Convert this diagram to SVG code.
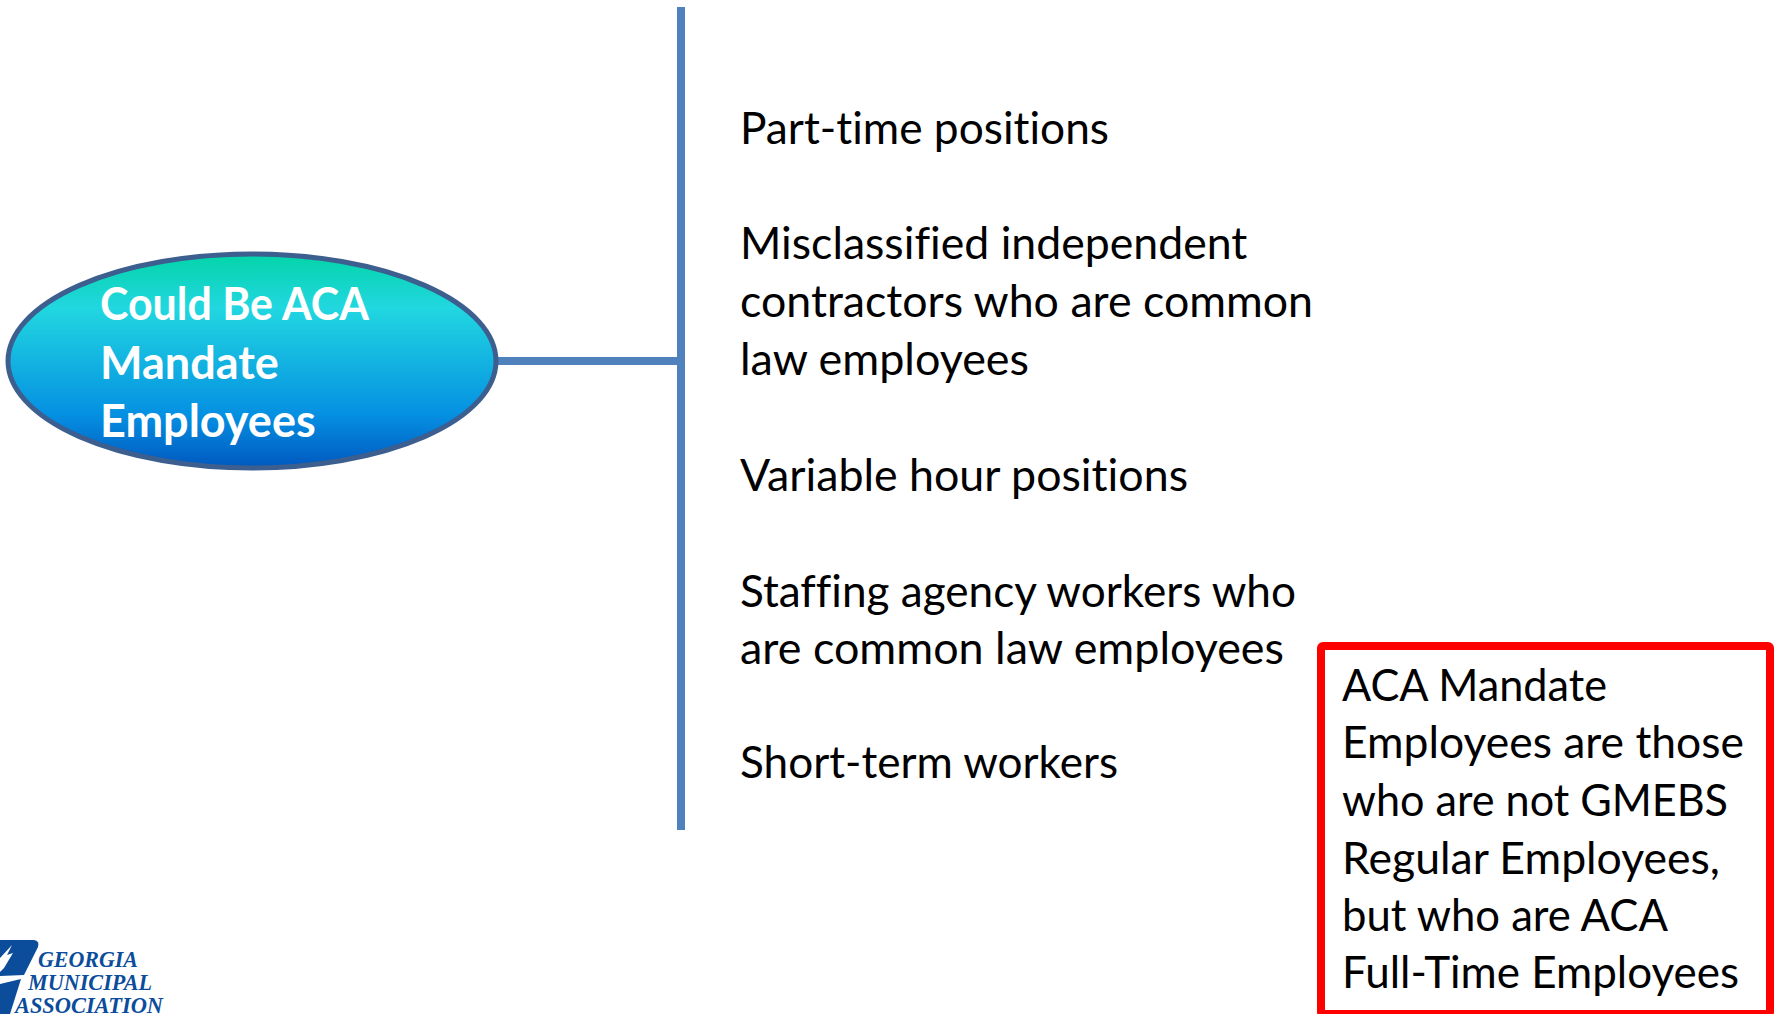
<svg xmlns="http://www.w3.org/2000/svg" width="1775" height="1014" viewBox="0 0 1775 1014">
<style>
.t{font-family:"Lato","Noto Sans","Liberation Sans",sans-serif;font-size:44.6px;fill:#000;font-variant-ligatures:none}
.h{font-family:"Lato","Noto Sans","Liberation Sans",sans-serif;font-size:45px;font-weight:700;fill:#fff}
.l{font-family:"Liberation Serif",serif;font-size:24px;font-weight:700;font-style:italic;fill:#0b4c9b}
.c{stroke:#4f81bd;fill:none}
</style>
<defs><linearGradient id="g" x1="0" y1="0" x2="0" y2="1">
<stop offset="0" stop-color="#03d4a8"/><stop offset="0.25" stop-color="#21d7e0"/><stop offset="0.75" stop-color="#0590e2"/><stop offset="1" stop-color="#0058bf"/></linearGradient></defs>
<rect width="1775" height="1014" fill="#fff"/>
<g id="connectors">
<line class="c" x1="497" y1="361" x2="681" y2="361" stroke-width="8"/>
<line class="c" x1="681" y1="7" x2="681" y2="830" stroke-width="8"/>
</g>
<g id="node-main">
<ellipse cx="252" cy="361" rx="244" ry="107" fill="url(#g)" stroke="#3c5f8f" stroke-width="5"/>
<text class="h" x="100" y="320" textLength="269" lengthAdjust="spacingAndGlyphs">Could Be ACA</text>
<text class="h" x="100" y="379">Mandate</text>
<text class="h" x="100" y="437">Employees</text>
</g>
<g id="node-list">
<text class="t" x="740" y="144" textLength="369" lengthAdjust="spacingAndGlyphs">Part-time positions</text>
<text class="t" x="740" y="259">Misclassified independent</text>
<text class="t" x="740" y="317" textLength="573" lengthAdjust="spacingAndGlyphs">contractors who are common</text>
<text class="t" x="740" y="375" textLength="289" lengthAdjust="spacingAndGlyphs">law employees</text>
<text class="t" x="740" y="491" textLength="448" lengthAdjust="spacingAndGlyphs">Variable hour positions</text>
<text class="t" x="740" y="607" textLength="556" lengthAdjust="spacingAndGlyphs">Staffing agency workers who</text>
<text class="t" x="740" y="664" textLength="544" lengthAdjust="spacingAndGlyphs">are common law employees</text>
<text class="t" x="740" y="778" textLength="378" lengthAdjust="spacingAndGlyphs">Short-term workers</text>
</g>
<g id="node-note">
<rect x="1321" y="646" width="449" height="368" rx="2" fill="#fff" stroke="#f00" stroke-width="8"/>
<text class="t" x="1342" y="701" textLength="265" lengthAdjust="spacingAndGlyphs">ACA Mandate</text>
<text class="t" x="1342" y="758" textLength="402" lengthAdjust="spacingAndGlyphs">Employees are those</text>
<text class="t" x="1342" y="816" textLength="386" lengthAdjust="spacingAndGlyphs">who are not GMEBS</text>
<text class="t" x="1342" y="874" textLength="378" lengthAdjust="spacingAndGlyphs">Regular Employees,</text>
<text class="t" x="1342" y="931" textLength="326" lengthAdjust="spacingAndGlyphs">but who are ACA</text>
<text class="t" x="1342" y="988" textLength="397" lengthAdjust="spacingAndGlyphs">Full-Time Employees</text>
</g>
<g id="logo">
<path d="M0 940H34Q40 941 38 947L24 975L0 976Z M0 984L21 979L10 1014H0Z" fill="#0b4c9b"/>
<path d="M12 945L7 955L13 953L4 968L0 972V958Z" fill="#fff"/>
<text class="l" x="38" y="967" textLength="100" lengthAdjust="spacingAndGlyphs">GEORGIA</text>
<text class="l" x="28" y="990" textLength="124" lengthAdjust="spacingAndGlyphs">MUNICIPAL</text>
<text class="l" x="15" y="1013" textLength="148" lengthAdjust="spacingAndGlyphs">ASSOCIATION</text>
</g>
</svg>
